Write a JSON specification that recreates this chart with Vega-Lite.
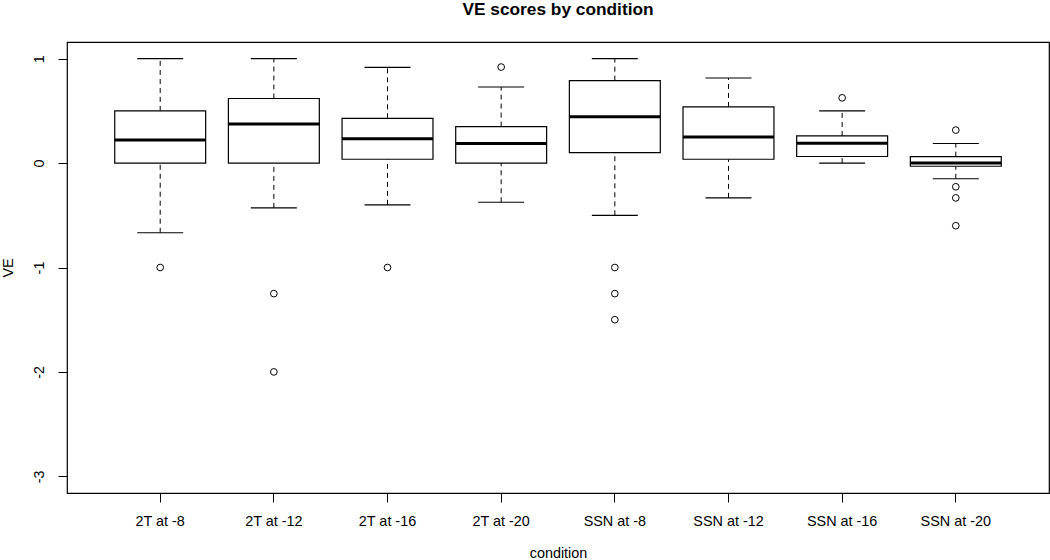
{
  "$schema": "https://vega.github.io/schema/vega-lite/v6.json",
  "autosize": {"type": "none"},
  "padding": {"left": 67, "top": 42, "right": 1, "bottom": 67},
  "width": 982,
  "height": 451,
  "background": "white",
  "title": {
    "text": "VE scores by condition",
    "font": "Liberation Sans",
    "fontSize": 17.3,
    "fontWeight": "bold",
    "color": "black",
    "anchor": "middle",
    "baseline": "alphabetic",
    "offset": 10
  },
  "config": {
    "view": {"stroke": "black", "strokeWidth": 1.2},
    "axis": {
      "labelFont": "Liberation Sans",
      "titleFont": "Liberation Sans",
      "labelFontSize": 14.4,
      "titleFontSize": 14.4,
      "titleFontWeight": "normal",
      "labelColor": "black",
      "titleColor": "black",
      "tickColor": "black",
      "tickSize": 9,
      "tickWidth": 1,
      "grid": false,
      "domain": false
    }
  },
  "datasets": {
    "stats": [
      {"condition": "2T at -8", "lo": -0.667, "q1": 0.0, "med": 0.222, "q3": 0.5, "hi": 1.0},
      {"condition": "2T at -12", "lo": -0.429, "q1": 0.0, "med": 0.375, "q3": 0.619, "hi": 1.0},
      {"condition": "2T at -16", "lo": -0.4, "q1": 0.037, "med": 0.233, "q3": 0.429, "hi": 0.917},
      {"condition": "2T at -20", "lo": -0.375, "q1": 0.0, "med": 0.188, "q3": 0.35, "hi": 0.729},
      {"condition": "SSN at -8", "lo": -0.5, "q1": 0.1, "med": 0.444, "q3": 0.79, "hi": 1.0},
      {"condition": "SSN at -12", "lo": -0.333, "q1": 0.037, "med": 0.25, "q3": 0.538, "hi": 0.815},
      {"condition": "SSN at -16", "lo": 0.0, "q1": 0.063, "med": 0.19, "q3": 0.26, "hi": 0.5},
      {"condition": "SSN at -20", "lo": -0.15, "q1": -0.03, "med": 0.0, "q3": 0.062, "hi": 0.188}
    ],
    "outliers": [
      {"condition": "2T at -8", "VE": -1.0},
      {"condition": "2T at -12", "VE": -1.25},
      {"condition": "2T at -12", "VE": -2.0},
      {"condition": "2T at -16", "VE": -1.0},
      {"condition": "2T at -20", "VE": 0.92},
      {"condition": "SSN at -8", "VE": -1.0},
      {"condition": "SSN at -8", "VE": -1.25},
      {"condition": "SSN at -8", "VE": -1.5},
      {"condition": "SSN at -16", "VE": 0.625},
      {"condition": "SSN at -20", "VE": 0.316},
      {"condition": "SSN at -20", "VE": -0.227},
      {"condition": "SSN at -20", "VE": -0.333},
      {"condition": "SSN at -20", "VE": -0.6}
    ]
  },
  "encoding": {
    "x": {
      "field": "condition",
      "type": "nominal",
      "sort": ["2T at -8", "2T at -12", "2T at -16", "2T at -20", "SSN at -8", "SSN at -12", "SSN at -16", "SSN at -20"],
      "scale": {"type": "band", "paddingInner": 0.2, "paddingOuter": 0.42},
      "axis": {"labelAngle": 0, "labelPadding": 12, "title": "condition", "titlePadding": 19}
    }
  },
  "layer": [
    {
      "data": {"name": "stats"},
      "mark": {"type": "rule", "color": "black", "strokeWidth": 1, "strokeDash": [5, 4]},
      "encoding": {
        "y": {"field": "q3", "type": "quantitative", "scale": {"domain": [-3.16, 1.16], "nice": false, "zero": false},
          "axis": {"values": [-3, -2, -1, 0, 1], "labelExpr": "'' + datum.value", "labelAngle": -90, "labelAlign": "center", "labelBaseline": "bottom", "labelPadding": 12, "title": "VE", "titlePadding": 16}},
        "y2": {"field": "hi"}
      }
    },
    {
      "data": {"name": "stats"},
      "mark": {"type": "rule", "color": "black", "strokeWidth": 1, "strokeDash": [5, 4]},
      "encoding": {
        "y": {"field": "lo", "type": "quantitative"},
        "y2": {"field": "q1"}
      }
    },
    {
      "data": {"name": "stats"},
      "mark": {"type": "bar", "fill": "white", "stroke": "black", "strokeWidth": 1.2},
      "encoding": {
        "y": {"field": "q1", "type": "quantitative"},
        "y2": {"field": "q3"}
      }
    },
    {
      "data": {"name": "stats"},
      "mark": {"type": "tick", "orient": "horizontal", "color": "black", "size": 91, "thickness": 3, "opacity": 1},
      "encoding": {
        "y": {"field": "med", "type": "quantitative"}
      }
    },
    {
      "data": {"name": "stats"},
      "mark": {"type": "tick", "orient": "horizontal", "color": "black", "size": 46, "thickness": 1.2, "opacity": 1},
      "encoding": {
        "y": {"field": "hi", "type": "quantitative"}
      }
    },
    {
      "data": {"name": "stats"},
      "mark": {"type": "tick", "orient": "horizontal", "color": "black", "size": 46, "thickness": 1.2, "opacity": 1},
      "encoding": {
        "y": {"field": "lo", "type": "quantitative"}
      }
    },
    {
      "data": {"name": "outliers"},
      "mark": {"type": "point", "shape": "circle", "filled": false, "color": "black", "size": 45, "strokeWidth": 1, "opacity": 1},
      "encoding": {
        "y": {"field": "VE", "type": "quantitative"}
      }
    }
  ]
}
